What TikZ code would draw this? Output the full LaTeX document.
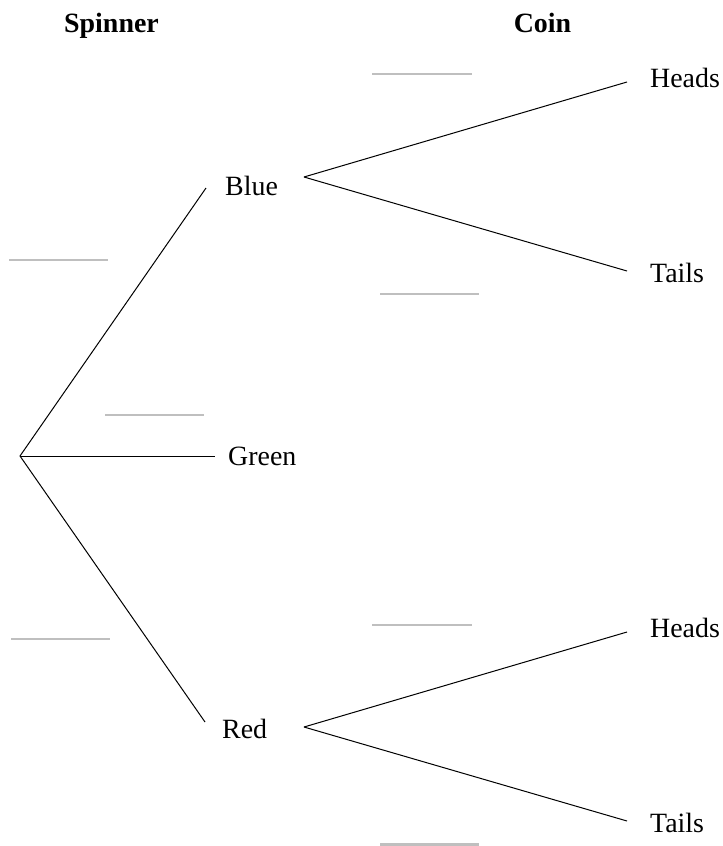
\documentclass[tikz,border=0pt]{standalone}
\usepackage{fontspec}
\setmainfont{Liberation Serif}
\begin{document}
\begin{tikzpicture}[x=1bp,y=-1bp,
  lbl/.style={anchor=base west,inner sep=0pt,font=\fontsize{28}{32}\selectfont},
  hdr/.style={anchor=base,inner sep=0pt,font=\fontsize{28}{32}\selectfont\bfseries},
  branch/.style={draw=black,line width=1bp},
  blank/.style={draw=black!25,line width=2.8bp}]
\useasboundingbox (0,0) rectangle (723,846);
% headings
\node[hdr] (hs) at (111.5,32) {Spinner};
\node[hdr] (hc) at (542.5,32) {Coin};
% tree vertices
\coordinate (root) at (20,456);
\coordinate (bE) at (206,188);
\coordinate (gE) at (215,456);
\coordinate (rE) at (205,722);
\coordinate (bR) at (304,177);
\coordinate (bH) at (627,82);
\coordinate (bT) at (627,271);
\coordinate (rR) at (304,727);
\coordinate (rH) at (627,632);
\coordinate (rT) at (627,821);
% labels
\node[lbl] (blue) at (225,195) {Blue};
\node[lbl] (green) at (228,465) {Green};
\node[lbl] (red) at (222,738) {Red};
\node[lbl] (h1) at (650,87) {Heads};
\node[lbl] (t1) at (650,282) {Tails};
\node[lbl] (h2) at (650,637) {Heads};
\node[lbl] (t2) at (650,832) {Tails};
% branches
\draw[branch] (root) -- (bE);
\draw[branch] (root) -- (gE);
\draw[branch] (root) -- (rE);
\draw[branch] (bR) -- (bH);
\draw[branch] (bR) -- (bT);
\draw[branch] (rR) -- (rH);
\draw[branch] (rR) -- (rT);
% blanks for probabilities
\coordinate (a1) at (9,260);   \coordinate (a2) at (108,260);
\coordinate (b1) at (105,415); \coordinate (b2) at (204,415);
\coordinate (c1) at (11,639);  \coordinate (c2) at (110,639);
\coordinate (d1) at (372,74);  \coordinate (d2) at (472,74);
\coordinate (e1) at (380,294); \coordinate (e2) at (479,294);
\coordinate (f1) at (372,625); \coordinate (f2) at (472,625);
\coordinate (g1) at (380,844.6); \coordinate (g2) at (479,844.6);
\draw[blank] (a1) -- (a2);
\draw[blank] (b1) -- (b2);
\draw[blank] (c1) -- (c2);
\draw[blank] (d1) -- (d2);
\draw[blank] (e1) -- (e2);
\draw[blank] (f1) -- (f2);
\draw[blank] (g1) -- (g2);
\end{tikzpicture}
\end{document}
